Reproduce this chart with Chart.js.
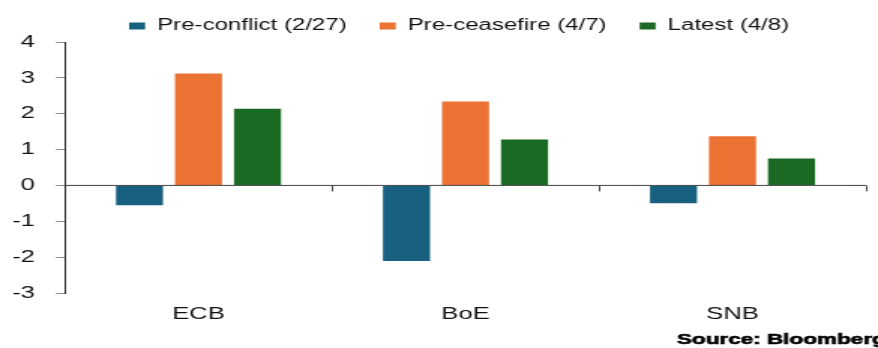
<!DOCTYPE html>
<html>
<head>
<meta charset="utf-8">
<script src="https://cdn.jsdelivr.net/npm/chart.js"></script>
<style>
  html, body { margin: 0; padding: 0; background: #fff; overflow: hidden; }
  /* the source picture is stretched 1.5x sideways, so draw narrow and stretch */
  #wrap { width: 585px; height: 348px; transform: scaleX(1.50085); transform-origin: 0 0; }
</style>
</head>
<body>
<div id="wrap"><canvas id="chart" width="585" height="348"></canvas></div>
<script>
// categories, series and ticks
const bancos = ['ECB', 'BoE', 'SNB'];
const preConflito = [-0.55, -2.11, -0.50];
const preCessar = [3.12, 2.34, 1.37];
const ultimo = [2.14, 1.28, 0.75];
const nomesSeries = ['Pre-conflict (2/27)', 'Pre-ceasefire (4/7)', 'Latest (4/8)'];
const yMin = -3, yMax = 4, yPasso = 1;
const fonte = 'Source: Bloomberg';

const FAMILIA = '"Liberation Sans", Arial, sans-serif';

// legend: fixed height and nudged into place
const ajusteLegenda = {
    id: 'ajusteLegenda',
    beforeInit(chart) {
        const lg = chart.legend;
        const fitOrig = lg.fit;
        lg.fit = function() {
            fitOrig.call(this);
            this.height = 42;
        };
    },
    afterLayout(chart) {
        const lg = chart.legend;
        lg.left += 64; lg.right += 64;
        lg.top -= 4; lg.bottom -= 4;
    }
};

// small ticks under the zero line at category edges + source note
const extras = {
    id: 'extras',
    afterDatasetsDraw(chart) {
        const { ctx, scales: { x, y } } = chart;
        const y0 = y.getPixelForValue(0);
        const meia = (x.getPixelForValue(1) - x.getPixelForValue(0)) / 2;
        ctx.save();
        ctx.strokeStyle = '#444';
        ctx.lineWidth = 1;
        ctx.beginPath();
        ctx.moveTo(chart.chartArea.left, y0);
        ctx.lineTo(chart.chartArea.right, y0);
        for (let i = 0; i < bancos.length; i++) {
            const px = Math.round(x.getPixelForValue(i) + meia) + 0.5;
            ctx.moveTo(px, y0);
            ctx.lineTo(px, y0 + 6);
        }
        ctx.stroke();
        ctx.restore();
    },
    afterDraw(chart) {
        const ctx = chart.ctx;
        ctx.save();
        ctx.font = 'bold 15px ' + FAMILIA;
        ctx.fillStyle = '#000';
        ctx.strokeStyle = '#000';
        ctx.lineWidth = 0.6;
        ctx.textBaseline = 'alphabetic';
        ctx.fillText(fonte, 451, 344);
        ctx.strokeText(fonte, 451, 344);
        ctx.restore();
    }
};

new Chart(document.getElementById('chart'), {
    type: 'bar',
    data: {
        labels: bancos,
        datasets: [
            { label: nomesSeries[0], data: preConflito, backgroundColor: '#17607f' },
            { label: nomesSeries[1], data: preCessar, backgroundColor: '#ea7233' },
            { label: nomesSeries[2], data: ultimo, backgroundColor: '#1b6a24' }
        ]
    },
    options: {
        responsive: false,
        animation: false,
        devicePixelRatio: 1,
        categoryPercentage: 0.663,
        barPercentage: 0.797,
        layout: { padding: { left: 0, right: 8, top: 0, bottom: 12 } },
        plugins: {
            legend: {
                position: 'top',
                align: 'start',
                labels: {
                    boxWidth: 10.7,
                    boxHeight: 7,
                    padding: 22,
                    color: '#111',
                    font: { family: FAMILIA, size: 16 }
                }
            },
            tooltip: { enabled: false }
        },
        scales: {
            x: {
                grid: { display: false },
                border: { display: false },
                ticks: { color: '#111', padding: 3, font: { family: FAMILIA, size: 17 } },
                afterFit(s) { s.height = 43; }
            },
            y: {
                min: yMin,
                max: yMax,
                grid: { drawOnChartArea: false, drawTicks: true, tickLength: 6, tickColor: '#888' },
                border: { display: true, color: '#222', width: 1 },
                ticks: { stepSize: yPasso, color: '#111', padding: 14, font: { family: FAMILIA, size: 17 } },
                afterFit(s) { s.width = 43.3; }
            }
        }
    },
    plugins: [ajusteLegenda, extras]
});
</script>
</body>
</html>
